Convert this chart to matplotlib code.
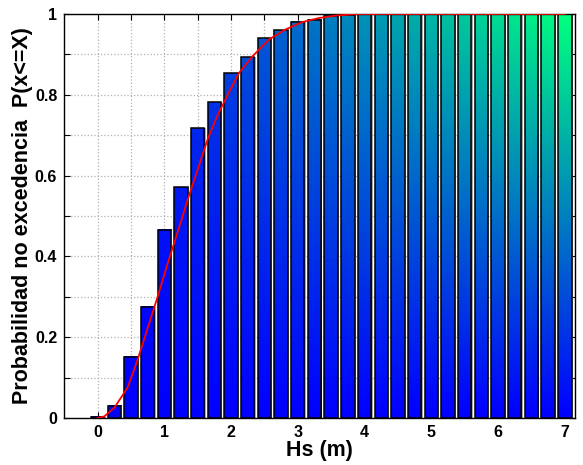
import numpy as np
import matplotlib
matplotlib.use('Agg')
from matplotlib import pyplot as plt
from matplotlib.patches import Rectangle

plt.rcParams['font.family'] = ['Liberation Sans', 'DejaVu Sans']
plt.rcParams['font.weight'] = 'bold'

# data
hs = np.arange(0, 7.01, 0.25)
prob = [0.003, 0.030, 0.151, 0.275, 0.466, 0.571, 0.717, 0.782, 0.853, 0.893,
        0.940, 0.960, 0.980, 0.986, 0.995, 0.997,
        1, 1, 1, 1, 1, 1, 1, 1, 1, 1, 1, 1, 1]

fit_x = [0.0, 0.1, 0.25, 0.45, 0.6, 0.75, 0.9, 1.05, 1.2, 1.35, 1.5, 1.65, 1.8,
         1.95, 2.12, 2.32, 2.57, 2.82, 3.07, 3.32, 3.57, 3.9, 7.0]
fit_y = [0.0, 0.004, 0.025, 0.075, 0.144, 0.222, 0.30, 0.382, 0.46, 0.54, 0.615,
         0.69, 0.75, 0.80, 0.854, 0.895, 0.937, 0.962, 0.98, 0.99, 0.996, 1.0, 1.0]

fig = plt.figure(figsize=(5.83, 4.65), dpi=100)
ax = fig.add_axes([0.110, 0.101, 0.876, 0.869])

w = 0.2
xmax = hs.max()
for x, h in zip(hs, prob):
    top = x * h / xmax
    grad = np.linspace(0, top, 64).reshape(-1, 1)
    ax.imshow(grad, extent=[x - w/2, x + w/2, 0, h], origin='lower', cmap='winter',
              vmin=0, vmax=1, aspect='auto', interpolation='bilinear', zorder=2)
    ax.add_patch(Rectangle((x + w/2 + 0.006, 0), 0.014, h, facecolor='#a8a8a8',
                           edgecolor='none', zorder=2))
    ax.add_patch(Rectangle((x - w/2, 0), w, h, facecolor='none',
                           edgecolor='black', linewidth=1.1, zorder=3))

ax.plot(fit_x, fit_y, color='red', linewidth=1.3, zorder=4)

ax.set_xlim(-0.5, 7.15)
ax.set_ylim(0, 1)
xt = np.arange(0, 7.01, 0.5)
ax.set_xticks(xt)
ax.set_xticklabels([str(int(v)) if v == int(v) else '' for v in xt])
yt = np.arange(0, 1.001, 0.1)
ax.set_yticks(yt)
ax.set_yticklabels(['0', '', '0.2', '', '0.4', '', '0.6', '', '0.8', '', '1'])
ax.tick_params(direction='in', top=True, right=True, length=4, labelsize=11.5,
               width=0.8, pad=5)
ax.grid(True, linestyle=':', color='#b0b0b0', linewidth=0.9, zorder=0)
ax.set_axisbelow(True)
for s in ax.spines.values():
    s.set_linewidth(1.0)

ax.set_xlabel('Hs (m)', fontsize=15.5, fontweight='bold', labelpad=0)
ax.set_ylabel('Probabilidad no excedencia  P(x<=X)', fontsize=15.5,
              fontweight='bold', labelpad=1)

fig.savefig('out.png', dpi=100)
